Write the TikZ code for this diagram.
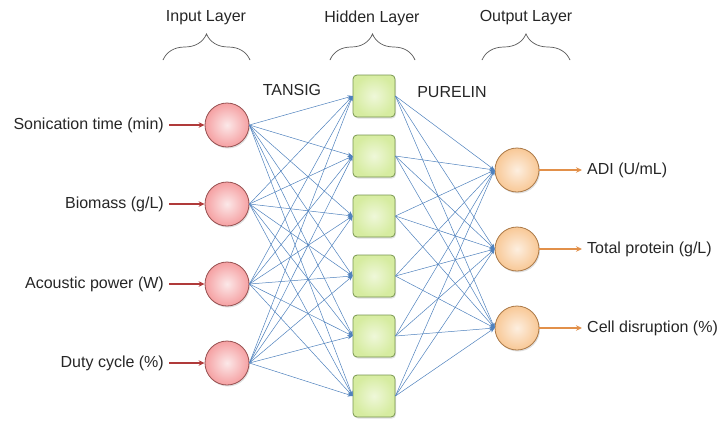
\documentclass[tikz,border=0pt]{standalone}
\usepackage{fontspec}
\setmainfont{Liberation Sans}
\usetikzlibrary{arrows.meta,decorations.pathreplacing,shadows}
\definecolor{linkblue}{RGB}{79,129,189}
\definecolor{inred}{RGB}{176,58,58}
\definecolor{outorange}{RGB}{226,144,74}
\definecolor{inpink}{RGB}{244,178,180}
\definecolor{inborder}{RGB}{150,80,80}
\definecolor{hidgreen}{RGB}{214,236,160}
\definecolor{hidborder}{RGB}{120,150,80}
\definecolor{outpeach}{RGB}{248,200,150}
\definecolor{outborder}{RGB}{170,120,70}
\begin{document}
\begin{tikzpicture}[x=1pt,y=-1pt,
  every node/.style={font=\fontsize{16}{19}\selectfont,text=black!85},
  inneuron/.style={circle,draw=inborder,line width=0.8pt,minimum size=44pt,inner sep=0pt,
    inner color=white!70!inpink,outer color=inpink!90!red,
    drop shadow={opacity=0.25,shadow xshift=1pt,shadow yshift=-1.5pt}},
  hidneuron/.style={rectangle,rounded corners=4pt,draw=hidborder,line width=0.8pt,minimum size=42pt,inner sep=0pt,
    inner color=white!60!hidgreen,outer color=hidgreen,
    drop shadow={opacity=0.25,shadow xshift=1pt,shadow yshift=-1.5pt}},
  outneuron/.style={circle,draw=outborder,line width=0.8pt,minimum size=44pt,inner sep=0pt,
    inner color=white!70!outpeach,outer color=outpeach,
    drop shadow={opacity=0.25,shadow xshift=1pt,shadow yshift=-1.5pt}},
  link/.style={draw=linkblue,line width=0.5pt,-{Stealth[length=5pt,width=4pt]}},
  inarrow/.style={draw=inred,line width=2pt,-{Stealth[length=6pt,width=5.5pt]},shorten <=3pt},
  outarrow/.style={draw=outorange,line width=2pt,-{Stealth[length=6pt,width=5.5pt]},shorten >=3pt},
  lbrace/.style={draw=black!65,line width=0.7pt,decorate,decoration={brace,amplitude=26pt}},
  inlabel/.style={anchor=east,inner sep=2pt},
  outlabel/.style={anchor=west,inner sep=2pt}
]
\useasboundingbox (0,0) rectangle (724,424);

% titles
\node (tin) at (206,18) {Input Layer};
\node (thid) at (372,18) {Hidden Layer};
\node (tout) at (526,18) {Output Layer};
\coordinate (b1l) at (163,60); \coordinate (b1r) at (250,60);
\coordinate (b2l) at (330,60); \coordinate (b2r) at (415,60);
\coordinate (b3l) at (482,60); \coordinate (b3r) at (570,60);
\draw[lbrace] (b1l) -- (b1r);
\draw[lbrace] (b2l) -- (b2r);
\draw[lbrace] (b3l) -- (b3r);

\node (tansig) at (292,90) {TANSIG};
\node (purelin) at (452,92) {PURELIN};

% neurons
\node[inneuron] (i1) at (227,125) {};
\node[inneuron] (i2) at (227,204) {};
\node[inneuron] (i3) at (227,284) {};
\node[inneuron] (i4) at (227,363) {};
\foreach \k in {1,...,6}{
  \node[hidneuron] (h\k) at (374,{96+60*(\k-1)}) {};
}
\node[outneuron] (o1) at (517,170) {};
\node[outneuron] (o2) at (517,249) {};
\node[outneuron] (o3) at (517,328) {};

% links
\foreach \i in {1,...,4}{
  \foreach \k in {1,...,6}{
    \draw[link] (i\i.east) -- (h\k.west);
  }
}
\foreach \k in {1,...,6}{
  \foreach \o in {1,...,3}{
    \draw[link] (h\k.east) -- (o\o.west);
  }
}

% input labels
\node[inlabel] (l1) at (166,125) {Sonication time (min)};
\node[inlabel] (l2) at (166,204) {Biomass (g/L)};
\node[inlabel] (l3) at (166,284) {Acoustic power (W)};
\node[inlabel] (l4) at (166,363) {Duty cycle (\%)};
\foreach \i in {1,...,4}{ \draw[inarrow] (l\i.east) -- (i\i.west); }

% output labels
\node[outlabel] (r1) at (585,170) {ADI (U/mL)};
\node[outlabel] (r2) at (585,249) {Total protein (g/L)};
\node[outlabel] (r3) at (585,328) {Cell disruption (\%)};
\foreach \o in {1,...,3}{ \draw[outarrow] (o\o.east) -- (r\o.west); }
\end{tikzpicture}
\end{document}
